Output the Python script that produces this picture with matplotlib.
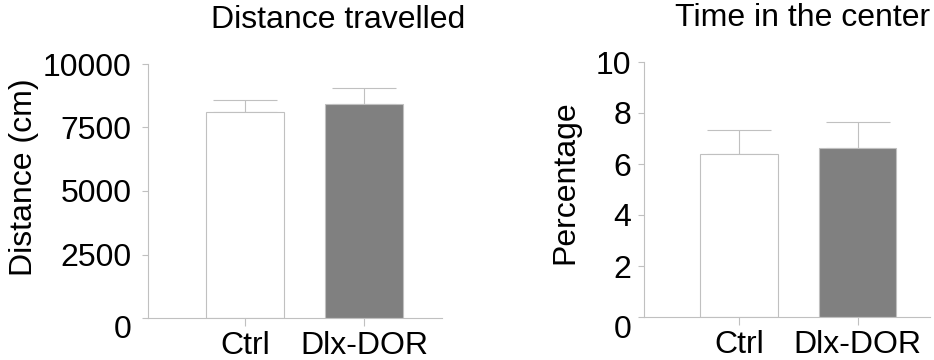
# open field results: distance travelled and time spent in the center

import matplotlib.pyplot as plt
import matplotlib.transforms as mtransforms

groups = ["Ctrl", "Dlx-DOR"]
bar_colors = ["white", "#808080"]

distance_mean = [8100, 8420]
distance_sem = [490, 645]
distance_ticks = [0, 2500, 5000, 7500, 10000]

center_mean = [6.39, 6.62]
center_sem = [0.95, 1.02]
center_ticks = [0, 2, 4, 6, 8, 10]

plt.rcParams['font.family'] = ['Liberation Sans', 'DejaVu Sans']
axis_gray = "#c0c0c0"

fig = plt.figure(figsize=(9.34, 3.6), dpi=100)
ax1 = fig.add_axes([148 / 934, 42 / 360, 294 / 934, 254 / 360])
ax2 = fig.add_axes([644 / 934, 43 / 360, 286 / 934, 255 / 360])


def bar_panel(ax, means, sems, ticks, ylabel, title, xlim, title_x, label_x, label_y, ypad):
    x = range(len(groups))
    ax.bar(x, means, width=0.65, color=bar_colors, edgecolor=axis_gray, linewidth=0.8, zorder=2)
    ax.errorbar(x, means, yerr=[[0] * len(sems), sems], fmt='none', ecolor=axis_gray,
                elinewidth=0.8, capsize=23, capthick=0.8, zorder=1)
    ax.set_xlim(xlim)
    ax.set_ylim(ticks[0], ticks[-1])
    ax.set_yticks(ticks)
    ax.set_xticks(list(x))
    ax.set_xticklabels(groups)
    for side in ["top", "right"]:
        ax.spines[side].set_visible(False)
    for side in ["left", "bottom"]:
        ax.spines[side].set_color(axis_gray)
        ax.spines[side].set_linewidth(0.8)
    ax.tick_params(axis='y', length=4, width=0.8, color=axis_gray, labelsize=23, pad=ypad)
    ax.tick_params(axis='x', length=5.5, width=0.8, color=axis_gray, labelsize=23, pad=4)
    ax.set_ylabel(ylabel, fontsize=23)
    ax.yaxis.set_label_coords(label_x, label_y)
    ax.set_title(title, fontsize=23, x=title_x, y=1.108, va='baseline')
    # the zero label sits a bit lower than its tick in the original
    zero = ax.yaxis.get_major_ticks()[0].label1
    zero.set_transform(zero.get_transform() + mtransforms.ScaledTranslation(0, -0.09, fig.dpi_scale_trans))


bar_panel(ax1, distance_mean, distance_sem, distance_ticks, "Distance (cm)", "Distance travelled",
          (-0.815, 1.655), 0.645, -0.371, 0.553, 8)
bar_panel(ax2, center_mean, center_sem, center_ticks, "Percentage", "Time in the center",
          (-0.80, 1.61), 0.554, -0.222, 0.527, 5)

fig.savefig("out.png", dpi=100)
